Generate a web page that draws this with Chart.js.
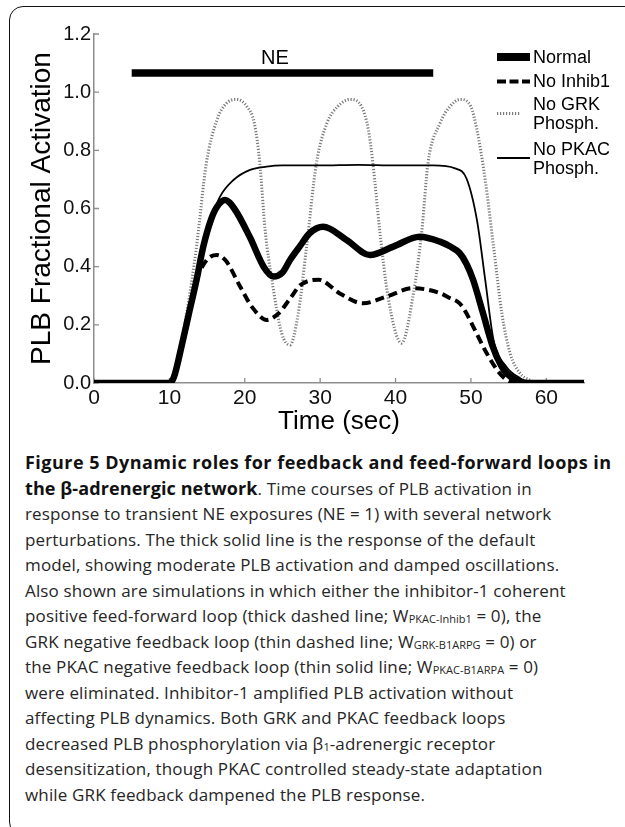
<!DOCTYPE html>
<html>
<head>
<meta charset="utf-8">
<script src="https://cdn.jsdelivr.net/npm/chart.js@4.4.1/dist/chart.umd.min.js"></script>
<style>
  html, body { margin: 0; padding: 0; background: #fff; }
  body { width: 625px; height: 827px; position: relative; overflow: hidden; }
  #frame {
    position: absolute; left: 9px; top: 6px; width: 660px; height: 830px;
    border: 1.5px solid #111; border-radius: 14px; box-sizing: border-box;
  }
  #plot { position: absolute; left: 0; top: 0; width: 625px; height: 440px; }
  #caption {
    position: absolute; left: 25px; top: 450px; width: 600px;
    font-family: "Open Sans", Lato, sans-serif; font-size: 17px; line-height: 25.5px;
    color: #262626; white-space: nowrap; letter-spacing: 0.15px;
  }
  #caption b { font-weight: 700; font-size: 18px; color: #111; letter-spacing: 0.48px; }
  #caption b.corto { letter-spacing: 0.1px; }
  #caption sub { font-size: 11px; vertical-align: -1px; line-height: 0; letter-spacing: 0; }
</style>
</head>
<body>
<div id="frame"></div>
<div id="plot"><canvas id="grafica" width="625" height="440"></canvas></div>
<div id="caption">
<b>Figure 5 Dynamic roles for feedback and feed-forward loops in</b><br>
<b class="corto">the β-adrenergic network</b>. Time courses of PLB activation in<br>
response to transient NE exposures (NE = 1) with several network<br>
perturbations. The thick solid line is the response of the default<br>
model, showing moderate PLB activation and damped oscillations.<br>
Also shown are simulations in which either the inhibitor-1 coherent<br>
positive feed-forward loop (thick dashed line; W<sub>PKAC-Inhib1</sub> = 0), the<br>
GRK negative feedback loop (thin dashed line; W<sub>GRK-B1ARPG</sub> = 0) or<br>
the PKAC negative feedback loop (thin solid line; W<sub>PKAC-B1ARPA</sub> = 0)<br>
were eliminated. Inhibitor-1 amplified PLB activation without<br>
affecting PLB dynamics. Both GRK and PKAC feedback loops<br>
decreased PLB phosphorylation via β<sub>1</sub>-adrenergic receptor<br>
desensitization, though PKAC controlled steady-state adaptation<br>
while GRK feedback dampened the PLB response.
</div>
<script>
// ejes
const xTicks = [0, 10, 20, 30, 40, 50, 60];
const yTicks = [0, 0.2, 0.4, 0.6, 0.8, 1.0, 1.2];

// Normal (linea gruesa)
const normalT = [0, 10, 10.6, 11.6, 12.6, 13.6, 14.5, 15.5, 16.3, 17.4, 18.6, 20.7, 22.5, 23.8, 25, 26, 27.3, 28.6, 30.4, 33.5, 36.6, 39.7, 43.2, 45.9, 47.2, 48.5, 49.4, 50.3, 51.6, 52.9, 54, 54.7, 56.5, 58, 65];
const normalY = [0, 0, 0.02, 0.125, 0.24, 0.354, 0.469, 0.56, 0.605, 0.629, 0.60, 0.50, 0.40, 0.366, 0.38, 0.423, 0.47, 0.515, 0.537, 0.492, 0.44, 0.469, 0.503, 0.486, 0.47, 0.447, 0.41, 0.354, 0.24, 0.125, 0.06, 0.034, 0.005, 0, 0];

// No Inhib1 (guiones)
const inhibT = [0, 10, 10.6, 11.6, 12.6, 13.6, 14.6, 15.5, 16.3, 17.5, 19.4, 21, 22.9, 24.5, 26, 27.3, 28.6, 29.8, 32.6, 35.7, 38.8, 42.3, 45.9, 47.2, 48.5, 49.4, 50.3, 52.1, 53.8, 55.2, 57, 65];
const inhibY = [0, 0, 0.02, 0.125, 0.24, 0.354, 0.41, 0.435, 0.44, 0.42, 0.331, 0.26, 0.217, 0.24, 0.29, 0.335, 0.352, 0.355, 0.308, 0.274, 0.297, 0.326, 0.309, 0.292, 0.274, 0.24, 0.194, 0.102, 0.034, 0.005, 0, 0];

// No GRK Phosph. (punteada gris)
const grkT = [0, 10, 11, 12.3, 13.6, 14.9, 16.3, 17.5, 18.9, 20.3, 21.3, 22.0, 22.7, 23.6, 24.9, 26, 27.1, 28.2, 29.5, 30.9, 32.3, 34, 35.5, 36.4, 37.0, 37.9, 39.0, 40.8, 42.3, 43.5, 44.3, 45.9, 47.2, 48.6, 50, 50.8, 51.9, 53, 54.1, 55.2, 56.5, 57.8, 59, 65];
const grkY = [0, 0, 0.06, 0.24, 0.469, 0.755, 0.904, 0.96, 0.975, 0.95, 0.89, 0.755, 0.526, 0.354, 0.171, 0.131, 0.24, 0.469, 0.755, 0.893, 0.95, 0.975, 0.95, 0.87, 0.755, 0.526, 0.297, 0.137, 0.297, 0.526, 0.755, 0.893, 0.95, 0.975, 0.95, 0.87, 0.698, 0.469, 0.24, 0.102, 0.034, 0.01, 0, 0];

// No PKAC Phosph. (linea delgada)
const pkacT = [0, 10, 10.6, 11.6, 12.6, 13.6, 14.5, 15.5, 16.7, 18.5, 20.7, 22.9, 25, 30, 35, 40, 45, 47.9, 49.4, 50.8, 51.9, 53, 54.7, 56.5, 58, 65];
const pkacY = [0, 0, 0.02, 0.125, 0.24, 0.354, 0.469, 0.56, 0.64, 0.698, 0.733, 0.744, 0.748, 0.748, 0.75, 0.748, 0.748, 0.738, 0.704, 0.56, 0.354, 0.148, 0.056, 0.017, 0, 0];

// barra NE
const neT = [5, 45];
const neY = [1.066, 1.066];
const neLabel = { x: 24, y: 1.117, text: 'NE' };

const leyenda = ['Normal', 'No Inhib1', ['No GRK', 'Phosph.'], ['No PKAC', 'Phosph.']];

const gris = '#8d8d8d';
const grisPunteado = '#7a7a7a';
const fuente = "'Liberation Sans', Arial, sans-serif";

function puntos(t, y) {
    return t.map((v, i) => ({ x: v, y: y[i] }));
}

// ticks hacia adentro, etiqueta NE y leyenda
const extras = {
    id: 'extras',
    beforeDatasetsDraw(chart) {
        const { ctx, scales: { x, y } } = chart;
        ctx.save();
        ctx.strokeStyle = gris;
        ctx.lineWidth = 1.3;
        ctx.beginPath();
        x.ticks.forEach(t => {
            const px = x.getPixelForValue(t.value);
            ctx.moveTo(px, y.bottom); ctx.lineTo(px, y.bottom - 5);
        });
        y.ticks.forEach(t => {
            const py = y.getPixelForValue(t.value);
            ctx.moveTo(x.left, py); ctx.lineTo(x.left + 5, py);
        });
        ctx.stroke();
        ctx.restore();
    },
    afterDraw(chart) {
        const { ctx, scales: { x, y } } = chart;
        ctx.save();
        ctx.fillStyle = '#000';
        ctx.font = '20px ' + fuente;
        ctx.textAlign = 'center';
        ctx.textBaseline = 'middle';
        ctx.fillText(neLabel.text, x.getPixelForValue(neLabel.x), y.getPixelForValue(neLabel.y));

        // leyenda
        const lx0 = 497, lx1 = 530, tx = 533;
        ctx.font = '18px ' + fuente;
        ctx.textAlign = 'left';
        const filas = [
            { ys: [58], ly: 57, w: 8, dash: [], color: '#000', x1: lx1 },
            { ys: [82], ly: 81.5, w: 4, dash: [9, 3.5], color: '#000', x1: lx1 },
            { ys: [105.5, 124.5], ly: 113.5, w: 3, dash: [1.2, 1.8], color: grisPunteado, x1: 520 },
            { ys: [150, 169], ly: 158, w: 2, dash: [], color: '#000', x1: lx1 }
        ];
        filas.forEach((f, i) => {
            ctx.strokeStyle = f.color;
            ctx.lineWidth = f.w;
            ctx.lineCap = 'butt';
            ctx.setLineDash(f.dash);
            ctx.beginPath();
            ctx.moveTo(lx0, f.ly); ctx.lineTo(f.x1, f.ly);
            ctx.stroke();
            const txt = [].concat(leyenda[i]);
            txt.forEach((s, j) => ctx.fillText(s, tx, f.ys[j]));
        });
        ctx.restore();
    }
};

const ctx = document.getElementById('grafica').getContext('2d');
new Chart(ctx, {
    type: 'line',
    data: {
        datasets: [
            {
                label: 'Normal', data: puntos(normalT, normalY),
                borderColor: '#000', borderWidth: 6.5, order: 0
            },
            {
                label: 'No Inhib1', data: puntos(inhibT, inhibY),
                borderColor: '#000', borderWidth: 4, borderDash: [9, 5], order: 1
            },
            {
                label: 'No PKAC Phosph.', data: puntos(pkacT, pkacY),
                borderColor: '#000', borderWidth: 1.8, order: 2
            },
            {
                label: 'No GRK Phosph.', data: puntos(grkT, grkY),
                borderColor: grisPunteado, borderWidth: 3, borderDash: [1.2, 1.8], order: 3
            },
            {
                label: 'NE', data: puntos(neT, neY),
                borderColor: '#000', borderWidth: 7.5, order: 4, cubicInterpolationMode: 'default', tension: 0
            }
        ]
    },
    options: {
        responsive: false,
        animation: false,
        devicePixelRatio: 1,
        parsing: false,
        layout: { padding: { left: 0, right: 41, top: 34, bottom: 0 } },
        elements: {
            point: { radius: 0 },
            line: { cubicInterpolationMode: 'monotone', borderCapStyle: 'butt', fill: false }
        },
        plugins: { legend: { display: false }, tooltip: { enabled: false } },
        scales: {
            x: {
                type: 'linear', min: 0, max: 65,
                afterBuildTicks: s => { s.ticks = xTicks.map(v => ({ value: v })); },
                afterFit: s => { s.height = 57; },
                grid: { drawOnChartArea: false, drawTicks: false },
                border: { color: gris, width: 1.5 },
                ticks: { color: '#111', font: { size: 21, family: fuente }, padding: 3, maxRotation: 0, autoSkip: false },
                title: { display: true, text: 'Time (sec)', color: '#000', font: { size: 26, family: fuente }, padding: { top: 0, bottom: 3 } }
            },
            y: {
                type: 'linear', min: 0, max: 1.2,
                afterBuildTicks: s => { s.ticks = yTicks.map(v => ({ value: v })); },
                afterFit: s => { s.width = 94; },
                grid: { drawOnChartArea: false, drawTicks: false },
                border: { color: gris, width: 1.5 },
                ticks: { color: '#111', font: { size: 20, family: fuente }, padding: 3, callback: v => v.toFixed(1) },
                title: { display: true, text: 'PLB Fractional Activation', color: '#000', font: { size: 28, family: fuente }, padding: { top: 25, bottom: 0 } }
            }
        }
    },
    plugins: [extras]
});
</script>
</body>
</html>
